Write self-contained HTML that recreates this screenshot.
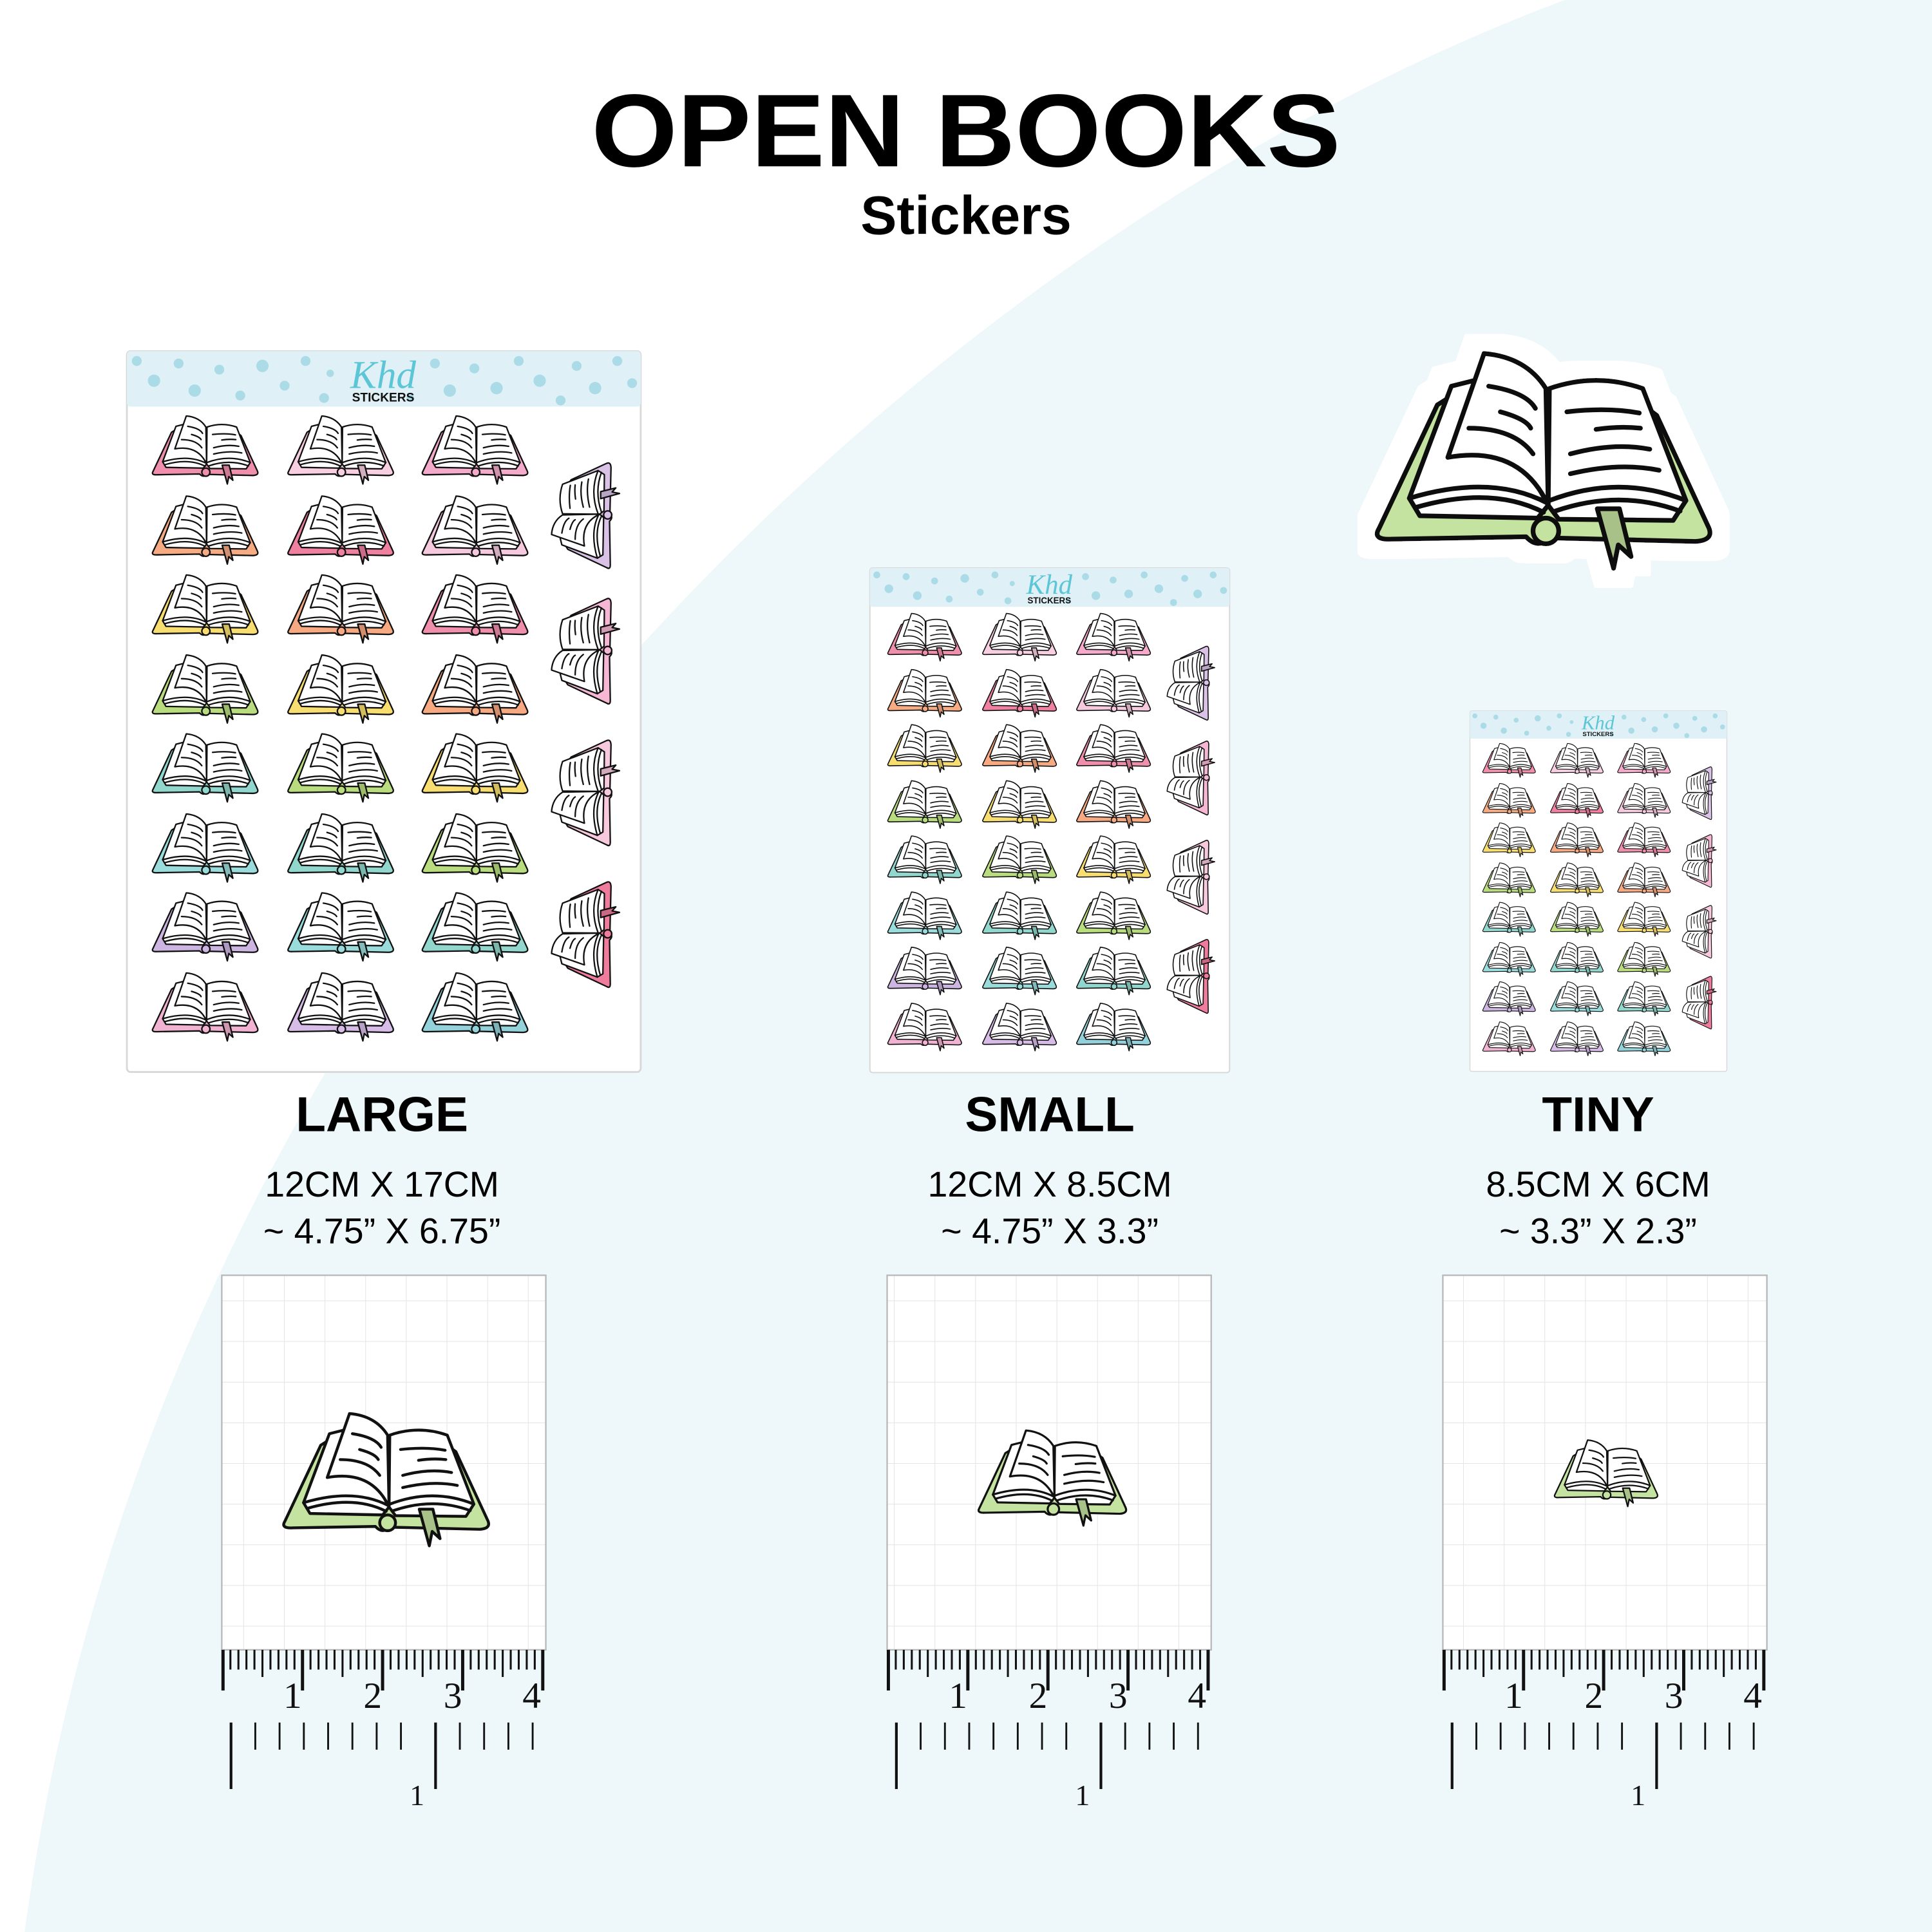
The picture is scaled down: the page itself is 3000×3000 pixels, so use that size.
<!DOCTYPE html>
<html><head><meta charset="utf-8"><style>
html,body{margin:0;padding:0;width:3000px;height:3000px;overflow:hidden;background:#eef7f9}
svg{display:block}
</style></head><body>
<svg width="3000" height="3000" viewBox="0 0 1568 1568" xmlns="http://www.w3.org/2000/svg" xmlns:xlink="http://www.w3.org/1999/xlink">
<defs>
<filter id="outl" x="-20%" y="-30%" width="140%" height="160%">
<feMorphology in="SourceAlpha" operator="dilate" radius="14" result="d"/>
<feFlood flood-color="#fff"/>
<feComposite in2="d" operator="in" result="w"/>
<feMerge><feMergeNode in="w"/><feMergeNode in="SourceGraphic"/></feMerge>
</filter>
<symbol id="bk" viewBox="0 0 300 190">
<g stroke="#111" stroke-width="4" stroke-linejoin="round" stroke-linecap="round">
<path d="M14,152 Q8,162 25,161 L140,159 Q150,170 160,160 L285,163 Q302,162 296,150 L252,55 L232,40 L80,36 L64,46 Z" fill="currentColor"/>
<path d="M40,126 L76,30 L100,24 L159,132 L150,143 L49,141 Z" fill="#fff"/>
<path d="M160,32 Q200,18 240,32 L277,128 L266,145 L168,144 L159,132 Z" fill="#fff"/>
<path d="M73,91 L104,2 Q140,5 157,32 L159,132 Q135,80 73,91 Z" fill="#fff"/>
<path d="M40,126 Q110,105 158,130 M45,134 Q110,115 155,138 M160,128 Q220,105 277,128 M165,137 Q220,118 272,137" fill="none"/>
<path d="M108,30 Q140,35 148,49 M118,52 Q140,58 144,66 M91,66 Q130,66 146,88 M175,52 Q210,48 237,53 M200,67 Q220,64 238,66 M178,88 Q215,78 246,84 M178,105 Q220,95 254,102" fill="none"/>
<circle cx="157" cy="154" r="11" fill="currentColor"/>
<path d="M201,135 L220,135 L230,176 L219,166 L215,186 Z" fill="currentColor"/>
<path d="M201,135 L220,135 L230,176 L219,166 L215,186 Z" fill="#000" fill-opacity=".15" stroke="none"/>
</g>
</symbol>
<pattern id="grid" width="33" height="33" patternUnits="userSpaceOnUse">
<path d="M33,0 V33 M0,33 H33" stroke="#e3e3e3" stroke-width="1" fill="none"/>
</pattern>
<g id="sheet">
<rect x="0" y="0" width="417" height="585" rx="3" fill="#fff" stroke="#d8d8d8" stroke-width="1.5"/>
<rect x="0" y="0" width="417" height="45" rx="3" fill="#dff1f6"/>
<g fill="#aadbe7">
<circle cx="8" cy="8" r="4"/><circle cx="22" cy="24" r="5"/><circle cx="42" cy="10" r="4"/><circle cx="55" cy="32" r="5"/><circle cx="75" cy="15" r="4"/><circle cx="92" cy="36" r="4"/><circle cx="110" cy="12" r="5"/><circle cx="128" cy="28" r="4"/><circle cx="145" cy="8" r="4"/><circle cx="160" cy="38" r="4"/><circle cx="165" cy="18" r="3"/>
<circle cx="250" cy="10" r="4"/><circle cx="262" cy="32" r="5"/><circle cx="282" cy="14" r="4"/><circle cx="300" cy="30" r="5"/><circle cx="318" cy="8" r="4"/><circle cx="335" cy="24" r="5"/><circle cx="352" cy="40" r="4"/><circle cx="365" cy="12" r="4"/><circle cx="380" cy="30" r="5"/><circle cx="398" cy="8" r="4"/><circle cx="410" cy="26" r="4"/><circle cx="230" cy="38" r="3"/>
</g>
<text x="208" y="30" font-family="Liberation Serif,serif" font-style="italic" font-size="32" fill="#5cc6d6" text-anchor="middle">Khd</text>
<text x="208" y="41" font-family="Liberation Sans,sans-serif" font-weight="bold" font-size="10" fill="#111" text-anchor="middle">STICKERS</text>
<use href="#bk" x="17" y="52" width="90" height="57" style="color:#f08fab"/>
<use href="#bk" x="127" y="52" width="90" height="57" style="color:#f8cfe0"/>
<use href="#bk" x="236" y="52" width="90" height="57" style="color:#f4abcb"/>
<use href="#bk" x="17" y="117" width="90" height="57" style="color:#f7ab82"/>
<use href="#bk" x="127" y="117" width="90" height="57" style="color:#ef80a0"/>
<use href="#bk" x="236" y="117" width="90" height="57" style="color:#f6cade"/>
<use href="#bk" x="17" y="181" width="90" height="57" style="color:#f8de70"/>
<use href="#bk" x="127" y="181" width="90" height="57" style="color:#f7a982"/>
<use href="#bk" x="236" y="181" width="90" height="57" style="color:#f08fab"/>
<use href="#bk" x="17" y="246" width="90" height="57" style="color:#b8dc7e"/>
<use href="#bk" x="127" y="246" width="90" height="57" style="color:#f8de70"/>
<use href="#bk" x="236" y="246" width="90" height="57" style="color:#f7a982"/>
<use href="#bk" x="17" y="310" width="90" height="57" style="color:#92d7cd"/>
<use href="#bk" x="127" y="310" width="90" height="57" style="color:#b8dc7e"/>
<use href="#bk" x="236" y="310" width="90" height="57" style="color:#f8de70"/>
<use href="#bk" x="17" y="375" width="90" height="57" style="color:#9adbdb"/>
<use href="#bk" x="127" y="375" width="90" height="57" style="color:#92d7cd"/>
<use href="#bk" x="236" y="375" width="90" height="57" style="color:#b8dc7e"/>
<use href="#bk" x="17" y="439" width="90" height="57" style="color:#cdb5e2"/>
<use href="#bk" x="127" y="439" width="90" height="57" style="color:#9adbdb"/>
<use href="#bk" x="236" y="439" width="90" height="57" style="color:#92d7cd"/>
<use href="#bk" x="17" y="504" width="90" height="57" style="color:#f2b3d2"/>
<use href="#bk" x="127" y="504" width="90" height="57" style="color:#d8bce8"/>
<use href="#bk" x="236" y="504" width="90" height="57" style="color:#93d2da"/>
<g transform="translate(372,135) rotate(-90)"><use href="#bk" x="-45" y="-28" width="90" height="57" style="color:#d9c2e6"/></g>
<g transform="translate(372,245) rotate(-90)"><use href="#bk" x="-45" y="-28" width="90" height="57" style="color:#f5b7d3"/></g>
<g transform="translate(372,360) rotate(-90)"><use href="#bk" x="-45" y="-28" width="90" height="57" style="color:#f8c8dc"/></g>
<g transform="translate(372,475) rotate(-90)"><use href="#bk" x="-45" y="-28" width="90" height="57" style="color:#ef7c9c"/></g>
</g>
<g id="ruler">
<path stroke="#111" stroke-width="1.6" fill="none" d="M6.5,0V16M13,0V16M19.5,0V16M26,0V16M39,0V16M45.5,0V16M52,0V16M58.5,0V16M71.5,0V16M78,0V16M84.5,0V16M91,0V16M104,0V16M110.5,0V16M117,0V16M123.5,0V16M136.5,0V16M143,0V16M149.5,0V16M156,0V16M169,0V16M175.5,0V16M182,0V16M188.5,0V16M201.5,0V16M208,0V16M214.5,0V16M221,0V16M234,0V16M240.5,0V16M247,0V16M253.5,0V16M32.5,0V22M97.5,0V22M162.5,0V22M227.5,0V22"/>
<path stroke="#111" stroke-width="2.6" fill="none" d="M0.5,0V33M65,0V33M130,0V33M195,0V33M260,0V33"/>
<g font-family="Liberation Serif,serif" font-size="30" fill="#111" text-anchor="middle">
<text x="57" y="47">1</text><text x="122" y="47">2</text><text x="187" y="47">3</text><text x="251" y="47">4</text>
</g>
<path stroke="#111" stroke-width="1.5" fill="none" d="M26.7,59V81M46.4,59V81M66.1,59V81M85.8,59V81M105.5,59V81M125.2,59V81M144.9,59V81M192.7,59V81M212.4,59V81M232.1,59V81M251.8,59V81"/>
<path stroke="#111" stroke-width="2.2" fill="none" d="M7,59V113M173,59V113"/>
<text x="158" y="126" font-family="Liberation Serif,serif" font-size="24" fill="#111" text-anchor="middle">1</text>
</g>
</defs>

<rect width="1568" height="1568" fill="#eef7f9"/>
<path d="M0,0 H1270 C760,190 130,760 20,1568 H0 Z" fill="#fff"/>

<text x="784" y="135" font-family="Liberation Sans,sans-serif" font-weight="bold" font-size="84" text-anchor="middle" textLength="608" lengthAdjust="spacingAndGlyphs" fill="#000">OPEN BOOKS</text>
<text x="784" y="190" font-family="Liberation Sans,sans-serif" font-weight="bold" font-size="44" text-anchor="middle" fill="#000">Stickers</text>

<use href="#sheet" transform="translate(103,285)"/>
<use href="#sheet" transform="translate(706,461) scale(0.7)"/>
<use href="#sheet" transform="translate(1193,577) scale(0.5)"/>

<g filter="url(#outl)">
<use href="#bk" x="1098" y="285" width="300" height="180" style="color:#c5e3a0"/>
</g>

<g font-family="Liberation Sans,sans-serif" fill="#000" text-anchor="middle">
<text x="310" y="918" font-weight="bold" font-size="40">LARGE</text>
<text x="852" y="918" font-weight="bold" font-size="40">SMALL</text>
<text x="1297" y="918" font-weight="bold" font-size="40">TINY</text>
<text x="310" y="971" font-size="29">12CM X 17CM</text>
<text x="310" y="1009" font-size="29">~ 4.75” X 6.75”</text>
<text x="852" y="971" font-size="29">12CM X 8.5CM</text>
<text x="852" y="1009" font-size="29">~ 4.75” X 3.3”</text>
<text x="1297" y="971" font-size="29">8.5CM X 6CM</text>
<text x="1297" y="1009" font-size="29">~ 3.3” X 2.3”</text>
</g>

<g>
<rect x="180" y="1035" width="263" height="304" fill="#fff"/>
<rect x="180" y="1035" width="263" height="304" fill="url(#grid)" stroke="#b8b8b8" stroke-width="1.2"/>
<rect x="720" y="1035" width="263" height="304" fill="#fff"/>
<rect x="720" y="1035" width="263" height="304" fill="url(#grid)" stroke="#b8b8b8" stroke-width="1.2"/>
<rect x="1171" y="1035" width="263" height="304" fill="#fff"/>
<rect x="1171" y="1035" width="263" height="304" fill="url(#grid)" stroke="#b8b8b8" stroke-width="1.2"/>
</g>
<use href="#bk" x="223" y="1146" width="175" height="111" style="color:#c5e3a0"/>
<use href="#bk" x="789" y="1160" width="126" height="80" style="color:#c5e3a0"/>
<use href="#bk" x="1258" y="1168" width="88" height="56" style="color:#c5e3a0"/>

<use href="#ruler" transform="translate(180.5,1339)"/>
<use href="#ruler" transform="translate(720.5,1339)"/>
<use href="#ruler" transform="translate(1171.5,1339)"/>
</svg>
</body></html>
